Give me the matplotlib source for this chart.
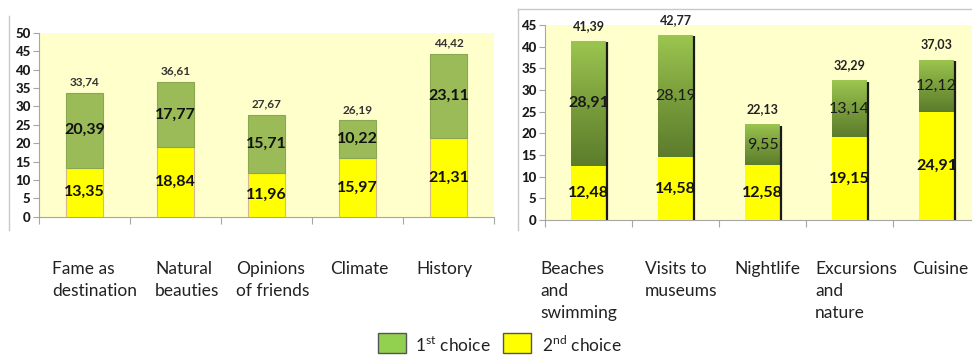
import numpy as np
import matplotlib
matplotlib.use("Agg")
import matplotlib.pyplot as plt
from matplotlib.lines import Line2D
from matplotlib.patches import Rectangle
from matplotlib.colors import LinearSegmentedColormap

# left chart: motives for choosing the destination
MOTIVES = ["Fame as\ndestination", "Natural\nbeauties", "Opinions\nof friends", "Climate", "History"]
MOTIVE_FIRST = [20.39, 17.77, 15.71, 10.22, 23.11]
MOTIVE_SECOND = [13.35, 18.84, 11.96, 15.97, 21.31]
MOTIVE_TOTAL = [33.74, 36.61, 27.67, 26.19, 44.42]
MOTIVE_TICKS = list(range(0, 51, 5))

# right chart: activities
ACTIVITIES = ["Beaches\nand\nswimming", "Visits to\nmuseums", "Nightlife", "Excursions\nand\nnature", "Cuisine"]
ACT_FIRST = [28.91, 28.19, 9.55, 13.14, 12.12]
ACT_SECOND = [12.48, 14.58, 12.58, 19.15, 24.91]
ACT_TOTAL = [41.39, 42.77, 22.13, 32.29, 37.03]
ACT_TICKS = list(range(0, 46, 5))
ACT_BOLD_FIRST = [True, False, False, False, False]

LEGEND = ["1$^{\\mathrm{st}}$ choice", "2$^{\\mathrm{nd}}$ choice"]

W, H = 972, 356
BG = "#FFFFCC"
GREEN = "#9BBB59"
GREEN_LEG = "#92D050"
YELLOW = "#FFFF00"
GRID = "#A6A6A6"

plt.rcParams["font.family"] = ["Lato", "DejaVu Sans"]
plt.rcParams["mathtext.fontset"] = "custom"
plt.rcParams["mathtext.rm"] = "Lato"


def fmt(v):
    return f"{v:.2f}".replace(".", ",")


def px(x, y):
    return x / W, 1 - y / H


def style_axes(ax, ticks):
    ax.set_facecolor(BG)
    for s in ["top", "right"]:
        ax.spines[s].set_visible(False)
    for s in ["left", "bottom"]:
        ax.spines[s].set_color(GRID)
        ax.spines[s].set_linewidth(0.8)
    ax.set_yticks(ticks)
    ax.set_yticklabels([str(t) for t in ticks], fontweight="black", fontsize=9.5, color="#1a1a1a")
    ax.tick_params(axis="y", length=4, color=GRID, pad=2)
    ax.set_xticks(np.arange(0, 6, 1))
    ax.set_xticklabels([])
    ax.tick_params(axis="x", length=5, color=GRID)
    ax.set_xlim(0, 5)


def main():
    fig = plt.figure(figsize=(W / 100, H / 100), dpi=100)
    xs = np.arange(5) + 0.5

    # ---- left chart ----
    x0, y0 = px(39, 216.7)
    x1, y1 = px(494, 33)
    ax = fig.add_axes([x0, y0, x1 - x0, y1 - y0])
    style_axes(ax, MOTIVE_TICKS)
    ax.set_ylim(0, 50)
    ax.bar(xs, MOTIVE_SECOND, 0.4, color=YELLOW, edgecolor="#D9B98C", linewidth=0.8, zorder=3)
    ax.bar(xs, MOTIVE_FIRST, 0.4, bottom=MOTIVE_SECOND, color=GREEN, edgecolor="#8AA650",
           linewidth=0.8, zorder=3)
    for x, a, b, t in zip(xs, MOTIVE_FIRST, MOTIVE_SECOND, MOTIVE_TOTAL):
        ax.text(x, b / 2, fmt(b), ha="center", va="center", fontsize=11.5, fontweight="bold",
                color="#111111", zorder=4)
        ax.text(x, b + a / 2, fmt(a), ha="center", va="center", fontsize=11.5, fontweight="bold",
                color="#111111", zorder=4)
        ax.annotate(fmt(t), (x, t), xytext=(0, 11), textcoords="offset pixels", ha="center",
                    va="center", fontsize=8.5, fontweight="bold", color="#333333")

    for lab, lx in zip(MOTIVES, [52, 155, 236, 330, 416]):
        fx, fy = px(lx, 261)
        fig.text(fx, fy, lab, ha="left", va="top", fontsize=12.5, color="#222222", linespacing=1.45)

    # ---- right chart ----
    x0, y0 = px(545, 220)
    x1, y1 = px(980, 25)
    ax2 = fig.add_axes([x0, y0, x1 - x0, y1 - y0])
    style_axes(ax2, ACT_TICKS)
    ax2.set_ylim(0, 45)
    w = 0.4
    ax2.bar(xs, ACT_SECOND, w, color=YELLOW, linewidth=0, zorder=3)
    cmap = LinearSegmentedColormap.from_list("g", ["#5C7C2C", "#7A9E3C", "#9CC650"])
    grad = np.linspace(0, 1, 256).reshape(-1, 1)
    for x, a, b, t, bold in zip(xs, ACT_FIRST, ACT_SECOND, ACT_TOTAL, ACT_BOLD_FIRST):
        rect = Rectangle((x - w / 2, b), w, a, facecolor="none", linewidth=0, zorder=3)
        ax2.add_patch(rect)
        im = ax2.imshow(grad, cmap=cmap, origin="lower", aspect="auto",
                        extent=[x - w / 2, x + w / 2, b, t], zorder=3)
        im.set_clip_path(rect)
        # shadow on the right side
        ax2.vlines(x + w / 2 + 0.008, 0, t - 0.4, color="#1a1a1a", linewidth=1.6, zorder=3)
        ax2.text(x, b / 2, fmt(b), ha="center", va="center", fontsize=11.5, fontweight="bold",
                 color="#111111", zorder=4)
        ax2.text(x, b + a / 2, fmt(a), ha="center", va="center", fontsize=11.5,
                 fontweight="bold" if bold else "normal", color="#1a1a1a", zorder=4)
        ax2.annotate(fmt(t), (x, t), xytext=(0, 15), textcoords="offset pixels", ha="center",
                     va="center", fontsize=9, fontweight="bold", color="#222222")
    ax2.set_xlim(0, 5)

    for lab, lx in zip(ACTIVITIES, [540, 645, 734, 815, 912]):
        fx, fy = px(lx, 261)
        fig.text(fx, fy, lab, ha="left", va="top", fontsize=12.5, color="#222222", linespacing=1.45)

    # panel borders
    fig.add_artist(Line2D([9 / W, 9 / W], [1 - 16 / H, 1 - 230 / H], color="#C8C8C8", lw=1))
    fig.add_artist(Line2D([518 / W, 518 / W], [1 - 9 / H, 1 - 230 / H], color="#C8C8C8", lw=1))
    fig.add_artist(Line2D([518 / W, 1], [1 - 9 / H, 1 - 9 / H], color="#C8C8C8", lw=1))

    # legend
    for (sx, tx), col, lab in zip([(378, 415), (503, 542)], [GREEN_LEG, YELLOW], LEGEND):
        fx, fy = px(sx, 353)
        fig.add_artist(Rectangle((fx, fy), 28 / W, 20 / H, transform=fig.transFigure,
                                 facecolor=col, edgecolor="#555555", linewidth=1))
        tfx, tfy = px(tx, 352)
        fig.text(tfx, tfy, lab, ha="left", va="baseline", fontsize=12.5, color="#222222")

    fig.savefig("out.png", dpi=100)


if __name__ == "__main__":
    main()
